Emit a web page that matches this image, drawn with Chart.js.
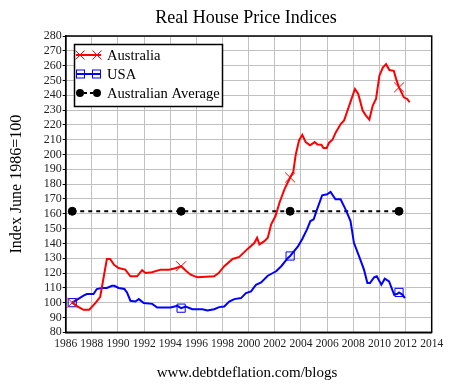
<!DOCTYPE html>
<html>
<head>
<meta charset="utf-8">
<script src="https://cdn.jsdelivr.net/npm/chart.js@4.4.1/dist/chart.umd.min.js"></script>
<style>
  body { margin: 0; background: #fff; }
  #wrap { width: 452px; height: 385px; }
</style>
</head>
<body>
<div id="wrap"><canvas id="chart" width="452" height="385"></canvas></div>
<script>
const ausYears = [1986.5, 1986.9, 1987.36, 1987.8, 1988.3, 1988.64, 1988.9, 1989.15, 1989.4, 1989.7,
    1990.05, 1990.56, 1990.95, 1991.46, 1991.85, 1992.1, 1992.6, 1993.26, 1993.9, 1994.4,
    1994.83, 1995.2, 1995.56, 1996.08, 1997.36, 1997.7, 1998.13, 1998.77, 1999.28, 1999.92,
    2000.44, 2000.64, 2000.82, 2001.2, 2001.46, 2001.72, 2002.05, 2002.36, 2002.74, 2003.17,
    2003.41, 2003.59, 2003.85, 2004.1, 2004.36, 2004.69, 2005.05, 2005.26, 2005.56, 2005.72,
    2005.97, 2006.15, 2006.41, 2006.67, 2007.05, 2007.3, 2007.56, 2007.82, 2008.13, 2008.38,
    2008.72, 2008.97, 2009.23, 2009.49, 2009.74, 2010.0, 2010.26, 2010.51, 2010.77, 2011.1,
    2011.28, 2011.5, 2011.87, 2012.13, 2012.31];
const ausValues = [100, 97.5, 95.2, 95.2, 100, 104, 117, 129.5, 129.5, 125.5,
    123.4, 122.3, 117.8, 117.8, 121.9, 120, 120.5, 122.3, 122.3, 123.2,
    124.6, 121.5, 118.9, 117.1, 117.8, 120, 124.6, 129.5, 130.9, 136.3,
    140.4, 143.8, 139.3, 141.5, 143.8, 152.9, 158.5, 167.6, 176.6, 184.5,
    188.3, 199.5, 209.5, 213.3, 208.4, 206.2, 208.4, 206.8, 206.6, 204.4,
    204.4, 208, 210, 215.1, 220.7, 223, 229.7, 236.4, 244.2, 240.9,
    229.7, 226.3, 223.6, 233, 237.5, 253.2, 258.7, 261, 257, 256.5,
    250.9, 245.3, 238.6, 237.5, 235.3];

const usaYears = [1986.5, 1986.85, 1987.36, 1987.62, 1988.13, 1988.38, 1988.77, 1989.15, 1989.54, 1989.72,
    1990.05, 1990.49, 1990.69, 1990.95, 1991.33, 1991.59, 1991.97, 1992.62, 1993.0, 1993.51,
    1994.03, 1994.54, 1994.83, 1995.18, 1995.69, 1996.46, 1996.85, 1997.36, 1997.74, 1998.13,
    1998.51, 1998.9, 1999.41, 1999.79, 2000.18, 2000.56, 2000.95, 2001.46, 2002.1, 2002.49,
    2003.0, 2003.17, 2003.77, 2004.1, 2004.46, 2004.72, 2004.97, 2005.23, 2005.62, 2006.0,
    2006.26, 2006.64, 2007.03, 2007.41, 2007.79, 2008.05, 2008.44, 2008.82, 2009.08, 2009.28,
    2009.59, 2009.8, 2010.15, 2010.41, 2010.74, 2011.13, 2011.38, 2011.5, 2011.77, 2011.95];
const usaValues = [100, 101.9, 104.7, 105.8, 105.8, 109.2, 109.9, 109.9, 111.4, 111.4,
    109.9, 109.2, 106.9, 101.3, 100.8, 102.4, 99.7, 99.2, 96.7, 96.7,
    96.7, 97.9, 96.3, 97.4, 95.6, 95.6, 94.7, 95.6, 97, 97.4,
    100.8, 102.4, 103.1, 106.5, 107.6, 112.1, 113.7, 118.2, 121.2, 124.6,
    130.2, 131.5, 138, 143, 149.5, 155.1, 156.2, 163, 172.5, 173.2,
    174.8, 169.8, 169.8, 163, 155.1, 140.4, 131.4, 122.3, 113.3, 113.3,
    117.1, 117.8, 112.1, 116.2, 114.4, 105.3, 106, 106.9, 105.3, 103.1];

const avgYears = [1986.5, 1994.83, 2003.17, 2011.5];
const avgValues = [161.7, 161.7, 161.7, 161.7];

const markerYears = [1986.5, 1994.83, 2003.17, 2011.5];
const xTicks = [1986, 2014, 2];
const yTicks = [80, 280, 10];

const titleText = "Real House Price Indices";
const footerText = "www.debtdeflation.com/blogs";

const toPoints = (xs, ys) => xs.map((x, i) => ({ x: x, y: ys[i] }));
const markerRadius = (r) => (ctx) => markerYears.includes(ctx.raw.x) ? r : 0;

const serif = "'Liberation Serif', 'Times New Roman', serif";

const drawX = (c, x, y, s) => {
    c.beginPath();
    c.moveTo(x - s, y - s); c.lineTo(x + s, y + s);
    c.moveTo(x - s, y + s); c.lineTo(x + s, y - s);
    c.stroke();
};

// frame, boxed legend, title and footer
const frameAndLegend = {
    id: "frameAndLegend",
    afterDatasetsDraw(chart) {
        const c = chart.ctx;
        const a = chart.chartArea;
        c.save();
        c.strokeStyle = "#000";
        c.lineWidth = 1.5;
        c.strokeRect(a.left, a.top, a.right - a.left, a.bottom - a.top);

        const bx = 74.5, by = 44.5, bw = 148, bh = 62;
        c.fillStyle = "#fff";
        c.fillRect(bx, by, bw, bh);
        c.strokeRect(bx, by, bw, bh);

        const rows = [55, 74, 93];
        c.lineWidth = 2;
        c.strokeStyle = "#f00";
        c.beginPath(); c.moveTo(76, rows[0]); c.lineTo(101, rows[0]); c.stroke();
        c.lineWidth = 1;
        drawX(c, 80, rows[0], 4.5); drawX(c, 97, rows[0], 4.5);

        c.lineWidth = 2;
        c.strokeStyle = "#00f";
        c.beginPath(); c.moveTo(76, rows[1]); c.lineTo(101, rows[1]); c.stroke();
        c.lineWidth = 1;
        c.strokeRect(76.5, rows[1] - 4, 8, 8);
        c.strokeRect(92.5, rows[1] - 4, 8, 8);

        c.strokeStyle = "#000";
        c.fillStyle = "#000";
        c.lineWidth = 2;
        c.setLineDash([3, 3]);
        c.beginPath(); c.moveTo(78, rows[2]); c.lineTo(98, rows[2]); c.stroke();
        c.setLineDash([]);
        [80, 97].forEach((x) => { c.beginPath(); c.arc(x, rows[2], 4, 0, Math.PI * 2); c.fill(); });

        c.font = "14.6px " + serif;
        c.textBaseline = "middle";
        c.textAlign = "left";
        c.fillText("Australia", 107, rows[0] + 1);
        c.fillText("USA", 107, rows[1] + 1);
        c.fillText("Australian Average", 107, rows[2] + 1);

        c.textAlign = "center";
        c.font = "18px " + serif;
        c.fillText(titleText, 246, 18);
        c.font = "15px " + serif;
        c.fillText(footerText, 247, 373);
        c.restore();
    },
};

new Chart(document.getElementById("chart"), {
    type: "line",
    plugins: [frameAndLegend],
    data: {
        datasets: [
            {
                label: "Australia",
                data: toPoints(ausYears, ausValues),
                borderColor: "#f00",
                borderWidth: 2,
                pointStyle: "crossRot",
                pointRadius: markerRadius(7),
                pointBorderColor: "#f00",
                pointBorderWidth: 1,
                tension: 0,
            },
            {
                label: "USA",
                data: toPoints(usaYears, usaValues),
                borderColor: "#00f",
                borderWidth: 2,
                pointStyle: "rect",
                pointRadius: markerRadius(5.8),
                pointBorderColor: "#00f",
                pointBackgroundColor: "rgba(0,0,0,0)",
                pointBorderWidth: 1,
                tension: 0,
            },
            {
                label: "Australian Average",
                data: toPoints(avgYears, avgValues),
                borderColor: "#000",
                borderWidth: 2,
                borderDash: [4, 4],
                pointStyle: "circle",
                pointRadius: 4,
                pointBackgroundColor: "#000",
                pointBorderColor: "#000",
                pointBorderWidth: 1,
                tension: 0,
            },
        ],
    },
    options: {
        responsive: false,
        animation: false,
        events: [],
        layout: { padding: { left: 0, right: 20.3, top: 36, bottom: 21 } },
        plugins: {
            legend: { display: false },
            tooltip: { enabled: false },
            title: { display: false },
        },
        scales: {
            x: {
                type: "linear",
                min: xTicks[0],
                max: xTicks[1],
                afterFit: (s) => { s.height = 31.7; },
                ticks: {
                    stepSize: xTicks[2],
                    autoSkip: false,
                    maxRotation: 0,
                    padding: 5,
                    color: "#222",
                    font: { family: serif, size: 11.5 },
                    callback: (v) => String(v),
                },
                grid: { color: "#c0c0c0", lineWidth: 1, drawTicks: false },
                border: { color: "#000", width: 1.5 },
            },
            y: {
                min: yTicks[0],
                max: yTicks[1],
                afterFit: (s) => { s.width = 65.7; },
                title: {
                    display: true,
                    text: "Index June 1986=100",
                    color: "#000",
                    font: { family: serif, size: 16, lineHeight: 1.2 },
                    padding: { top: 7.4, bottom: 0 },
                },
                ticks: {
                    stepSize: yTicks[2],
                    autoSkip: false,
                    padding: 1,
                    color: "#222",
                    font: { family: serif, size: 12 },
                    callback: (v) => String(v),
                },
                grid: { color: "#c0c0c0", lineWidth: 1, drawTicks: true, tickLength: 3, tickColor: "#000" },
                border: { color: "#000", width: 1.5 },
            },
        },
    },
});
</script>
</body>
</html>
